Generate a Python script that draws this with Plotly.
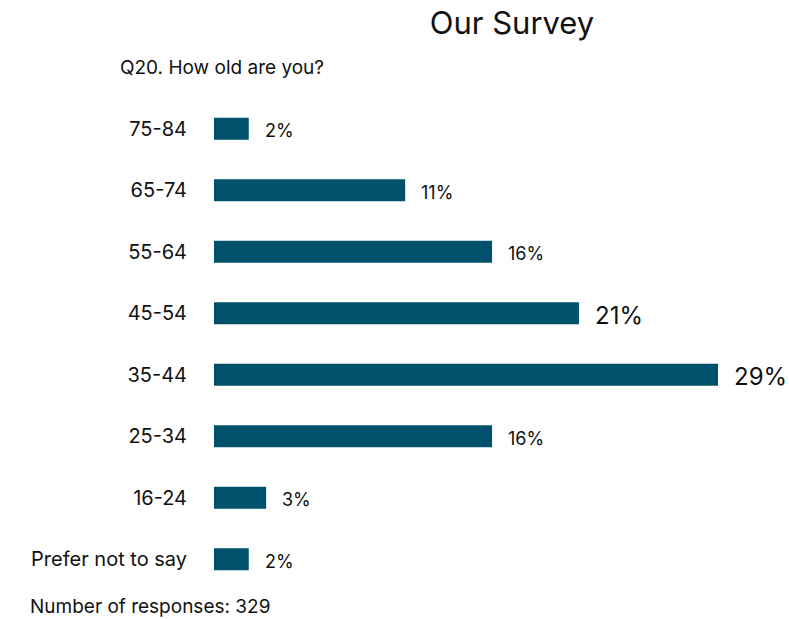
import plotly.graph_objects as go

# Age bands (top to bottom) and share of respondents in percent
categories = ["75-84", "65-74", "55-64", "45-54", "35-44", "25-34", "16-24", "Prefer not to say"]
values = [2, 11, 16, 21, 29, 16, 3, 2]
value_labels = ["2%", "11%", "16%", "21%", "29%", "16%", "3%", "2%"]
label_sizes = [18, 18, 18, 24, 24, 18, 18, 18]

title_text = "Our Survey"
question_text = "Q20. How old are you?"
footer_text = "Number of responses: 329"

FONT = "Inter"
BAR_COLOR = "#00526C"
TEXT_COLOR = "#111111"

ML, MR, MT, MB = 214, 15, 98, 29
W, H = 789, 619
plot_w = W - ML - MR
plot_h = H - MT - MB


def px_to_paper(px, py):
    return (px - ML) / plot_w, 1 - (py - MT) / plot_h


fig = go.Figure()
fig.add_trace(go.Bar(
    x=values,
    y=categories,
    orientation="h",
    marker=dict(color=BAR_COLOR, line=dict(width=0)),
    width=0.36,
    hoverinfo="skip",
))

# Percent labels just right of each bar
for cat, val, lab, size in zip(categories, values, value_labels, label_sizes):
    fig.add_annotation(
        x=val, y=cat, xref="x", yref="y",
        text=lab, showarrow=False,
        xanchor="left", yanchor="middle", xshift=14, yshift=-2,
        font=dict(family=FONT, size=size, color=TEXT_COLOR),
    )

qx, qy = px_to_paper(118, 68)
fig.add_annotation(
    x=qx, y=qy, xref="paper", yref="paper", text=question_text,
    showarrow=False, xanchor="left", yanchor="middle",
    font=dict(family=FONT, size=19, color=TEXT_COLOR),
)
fx, fy = px_to_paper(28, 606)
fig.add_annotation(
    x=fx, y=fy, xref="paper", yref="paper", text=footer_text,
    showarrow=False, xanchor="left", yanchor="middle",
    font=dict(family=FONT, size=19, color=TEXT_COLOR),
)

fig.update_layout(
    width=W,
    height=H,
    paper_bgcolor="white",
    plot_bgcolor="white",
    margin=dict(l=ML, r=MR, t=MT, b=MB),
    showlegend=False,
    font=dict(family=FONT, color=TEXT_COLOR),
    title=dict(
        text=title_text,
        x=512 / W, xanchor="center",
        y=1 - 23 / H, yanchor="middle",
        font=dict(family=FONT, size=31, color=TEXT_COLOR),
    ),
    xaxis=dict(
        range=[0, 29 * plot_w / 504],
        visible=False,
        fixedrange=True,
    ),
    yaxis=dict(
        categoryorder="array",
        categoryarray=categories[::-1],
        range=[-0.5, 7.5],
        showgrid=False,
        showline=False,
        zeroline=False,
        ticks="outside",
        ticklen=22,
        tickcolor="rgba(0,0,0,0)",
        tickfont=dict(family=FONT, size=20, color=TEXT_COLOR),
        fixedrange=True,
    ),
)

fig.write_html("out.html")
